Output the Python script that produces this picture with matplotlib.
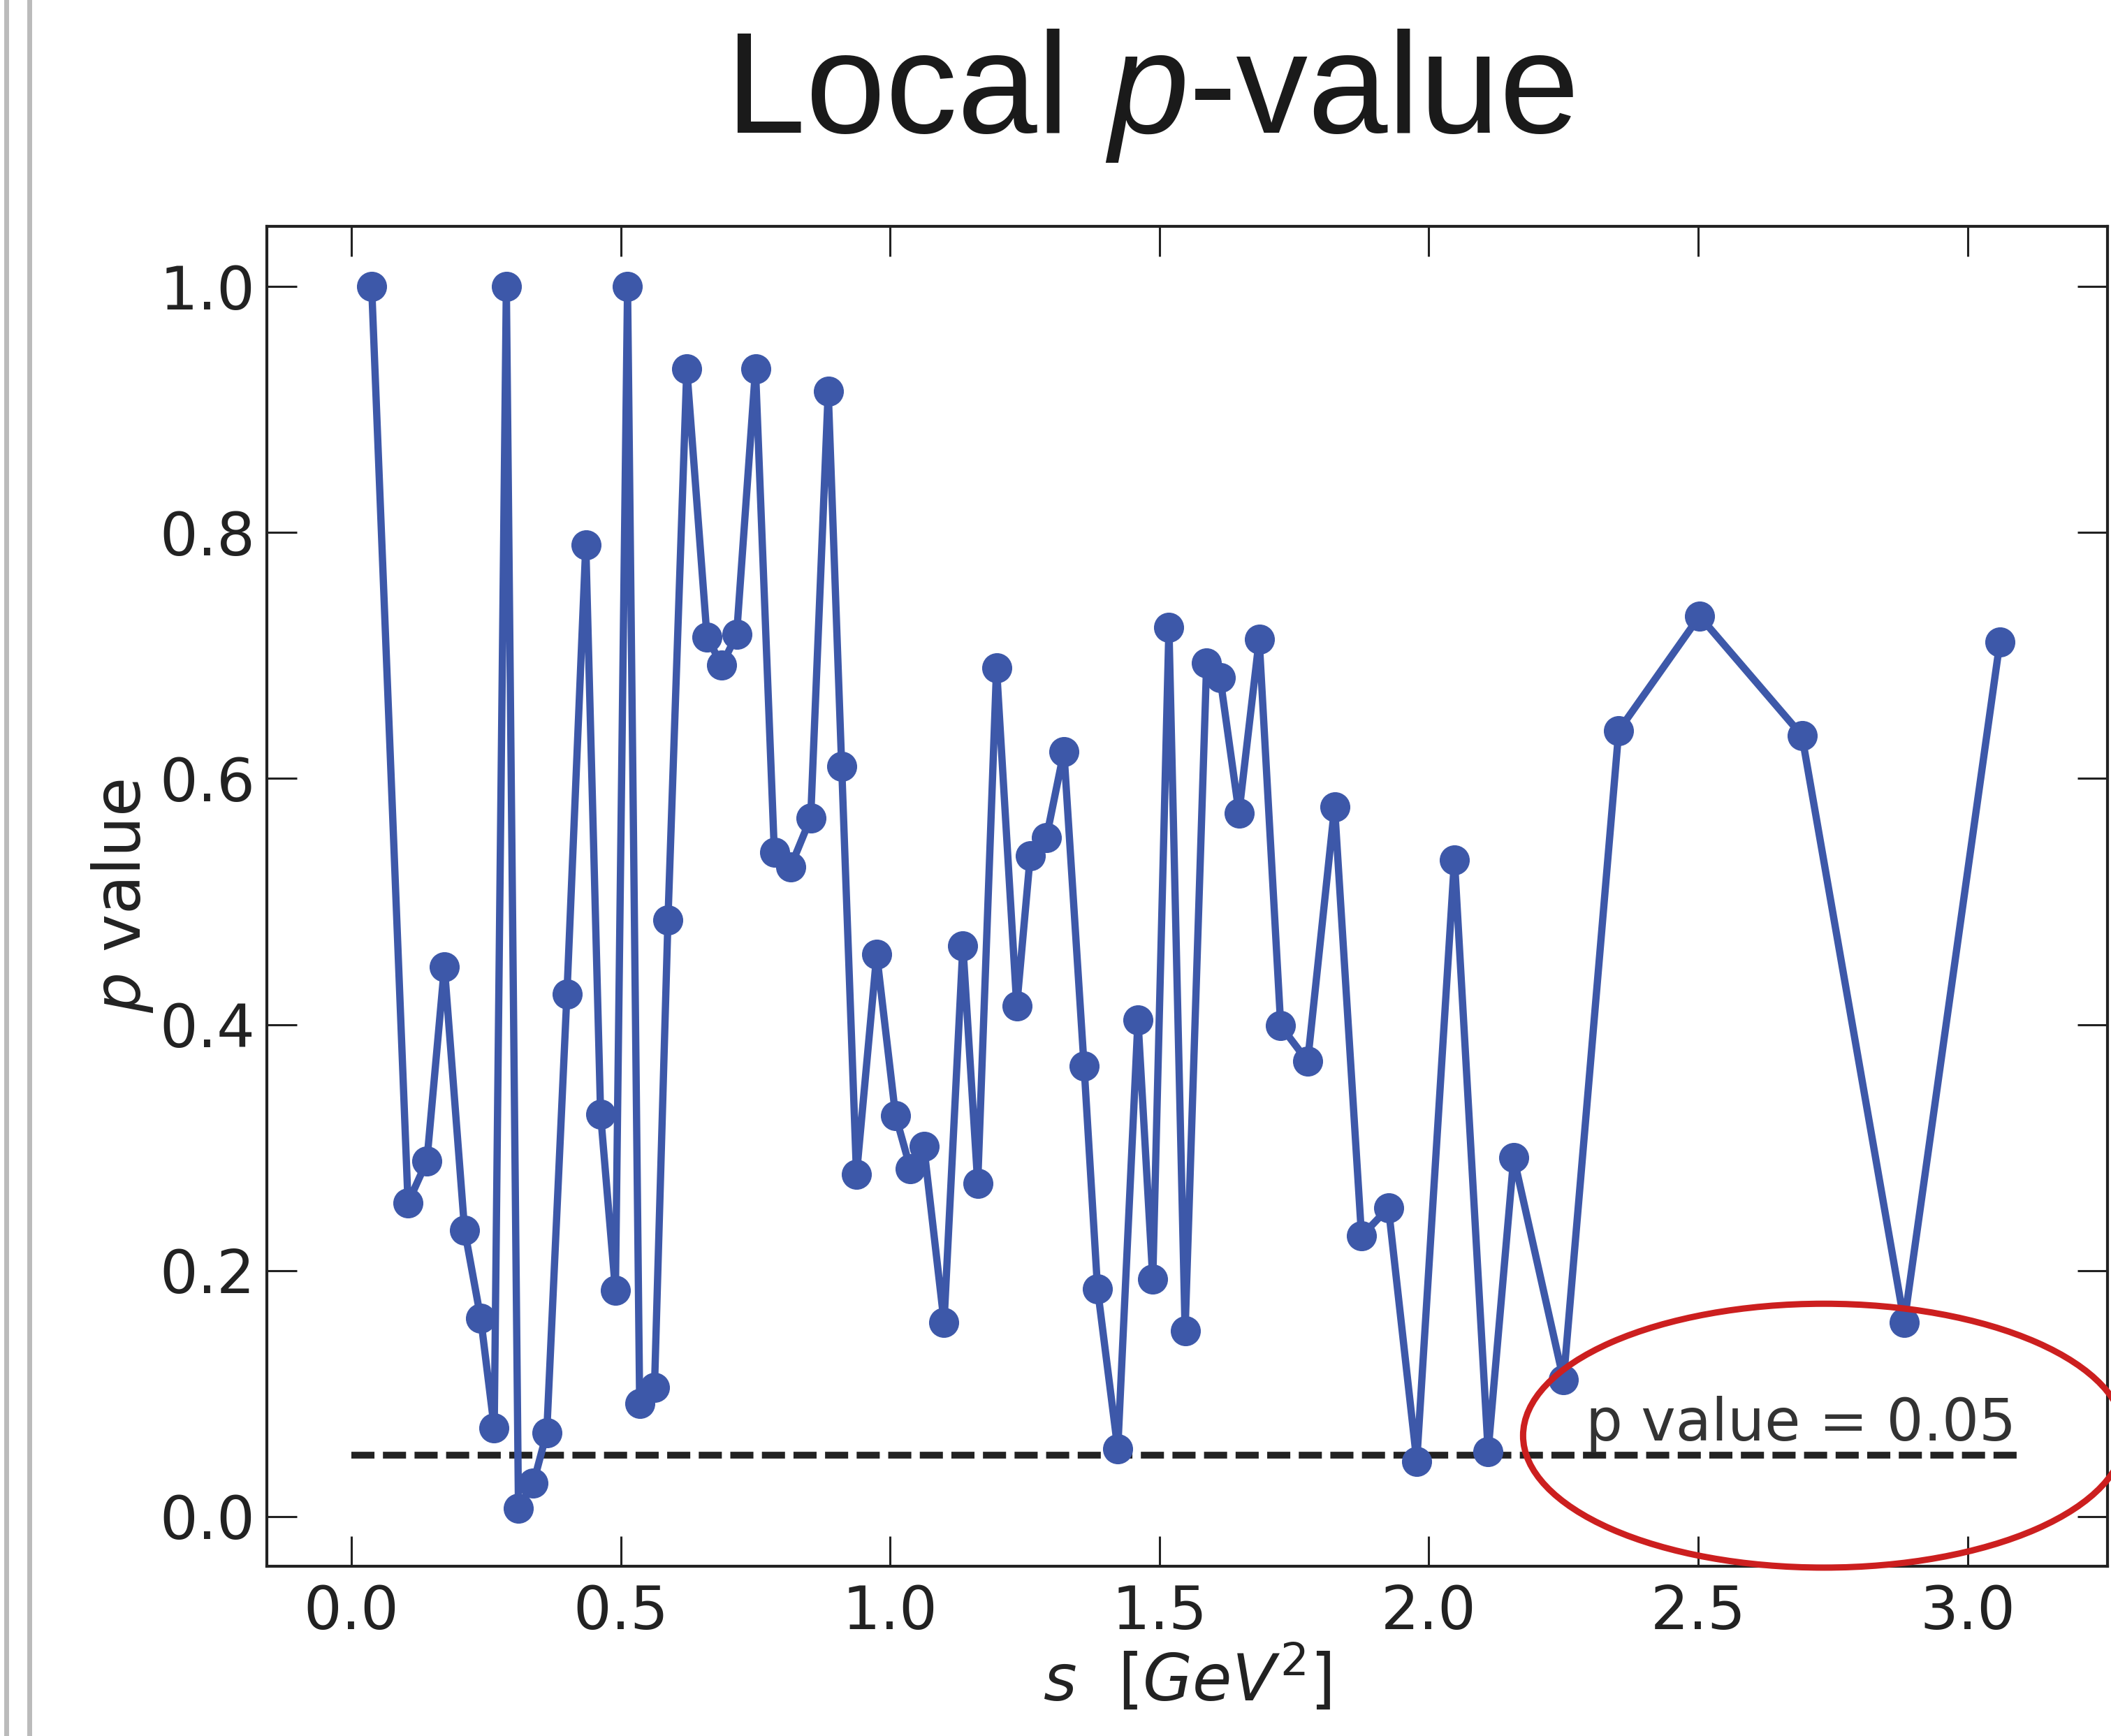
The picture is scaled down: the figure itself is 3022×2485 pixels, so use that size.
import numpy as np
import matplotlib.pyplot as plt
from matplotlib.patches import Ellipse
from matplotlib.lines import Line2D
from matplotlib.offsetbox import TextArea, HPacker, AnchoredOffsetbox

# -------------------------------
# Local p-value per s bin
# -------------------------------
s_vals = [0.0375, 0.105, 0.14, 0.1725, 0.21, 0.24, 0.265, 0.2875, 0.31, 0.3375,
          0.3625, 0.40, 0.435, 0.4625, 0.49, 0.5125, 0.535, 0.5625, 0.5875, 0.6225,
          0.66, 0.6875, 0.715, 0.75, 0.785, 0.815, 0.8525, 0.885, 0.91, 0.9375,
          0.975, 1.01, 1.0375, 1.0625, 1.10, 1.135, 1.1625, 1.1975, 1.235, 1.26,
          1.29, 1.3225, 1.36, 1.385, 1.4225, 1.46, 1.4875, 1.5175, 1.5475, 1.5875,
          1.6125, 1.6475, 1.685, 1.725, 1.775, 1.825, 1.875, 1.925, 1.9775, 2.0475,
          2.11, 2.1575, 2.25, 2.3525, 2.5025, 2.6925, 2.8825, 3.06]
p_vals = [1.0, 0.255, 0.289, 0.447, 0.233, 0.161, 0.072, 1.0, 0.007, 0.027,
          0.068, 0.425, 0.790, 0.327, 0.184, 1.0, 0.092, 0.105, 0.485, 0.933,
          0.715, 0.692, 0.717, 0.933, 0.540, 0.528, 0.568, 0.915, 0.610, 0.278,
          0.457, 0.326, 0.283, 0.301, 0.158, 0.464, 0.271, 0.690, 0.415, 0.537,
          0.552, 0.622, 0.366, 0.185, 0.055, 0.404, 0.193, 0.723, 0.151, 0.694,
          0.682, 0.572, 0.713, 0.399, 0.370, 0.577, 0.228, 0.251, 0.045, 0.534,
          0.053, 0.292, 0.111, 0.639, 0.732, 0.635, 0.158, 0.711]

threshold = 0.05
x_ticks = [0.0, 0.5, 1.0, 1.5, 2.0, 2.5, 3.0]
y_ticks = [0.0, 0.2, 0.4, 0.6, 0.8, 1.0]

plt.rcParams['font.family'] = 'DejaVu Sans'
plt.rcParams['mathtext.fontset'] = 'dejavusans'

fig = plt.figure(figsize=(30.22, 24.85), dpi=100)
ax = fig.add_axes([0.1263, 0.0977, 0.8721, 0.772])

ax.plot(s_vals, p_vals, '-o', color='#3D58A9', lw=7.5, ms=30, zorder=3)
ax.plot([0.0, 3.1], [threshold, threshold], '--', color='#222222', lw=7,
        dashes=(3.4, 1.25), zorder=2)
ax.text(3.09, 0.062, 'p value = 0.05', ha='right', va='baseline',
        fontsize=60, color='#333333')

ax.set_xlim(-0.1575, 3.26)
ax.set_ylim(-0.0405, 1.049)
ax.set_xticks(x_ticks)
ax.set_yticks(y_ticks)
ax.set_xticklabels([f'{t:.1f}' for t in x_ticks])
ax.set_yticklabels([f'{t:.1f}' for t in y_ticks])
ax.tick_params(direction='in', length=31, width=2.2, labelsize=62,
               top=True, right=True, labelcolor='#222222', color='#222222')
ax.tick_params(axis='x', pad=18)
ax.tick_params(axis='y', pad=12)
for sp in ax.spines.values():
    sp.set_linewidth(3)
    sp.set_color('#222222')

ax.set_xlabel(r'$s\ \ [GeV^2]$', fontsize=66, color='#222222', labelpad=2)
ax.set_ylabel(r'$p$ value', fontsize=66, color='#222222', labelpad=4)

# title with italic p, slide-style font
tprops = dict(fontsize=148, family='Liberation Sans', color='#1a1a1a')
parts = [TextArea('Local ', textprops=tprops),
         TextArea('p', textprops=dict(tprops, style='italic')),
         TextArea('-value', textprops=tprops)]
box = HPacker(children=parts, align='baseline', pad=0, sep=0)
anch = AnchoredOffsetbox(loc='center', child=box, frameon=False, pad=0,
                         bbox_to_anchor=(0.546, 0.945), bbox_transform=fig.transFigure)
fig.add_artist(anch)

# hand-drawn red circle around the threshold label
fig.add_artist(Ellipse((0.864, 0.173), 0.285, 0.152, transform=fig.transFigure,
                       fill=False, edgecolor='#CC1F1F', lw=6.5, clip_on=False))

# grey border at left edge of the screenshot
fig.add_artist(Line2D([0.003, 0.003], [0, 1], transform=fig.transFigure, color='#bbbbbb', lw=5))
fig.add_artist(Line2D([0.014, 0.014], [0, 1], transform=fig.transFigure, color='#bbbbbb', lw=5))

fig.savefig('out.png', dpi=100)
